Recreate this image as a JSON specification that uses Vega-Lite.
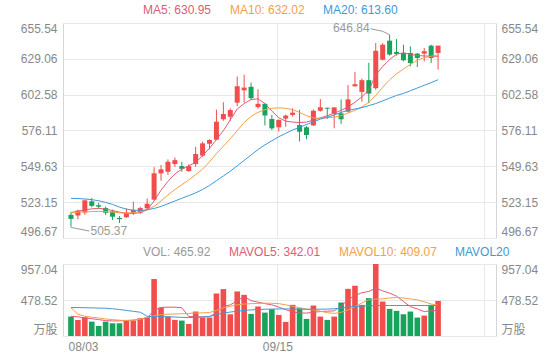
{
  "$schema": "https://vega.github.io/schema/vega-lite/v6.json",
  "width": 433,
  "height": 314,
  "autosize": {"type": "none"},
  "padding": {"left": 63, "top": 23, "right": 64, "bottom": 23},
  "background": "white",
  "config": {
    "view": {"stroke": null},
    "font": "Liberation Sans, Noto Sans CJK SC, sans-serif",
    "axis": {
      "labelFont": "Liberation Sans, Noto Sans CJK SC, sans-serif",
      "labelFontSize": 12,
      "labelColor": "#888888",
      "ticks": false,
      "domainColor": "#d6d6d6",
      "gridColor": "#e8e8e8",
      "title": null,
      "labelFlush": true,
      "labelFlushOffset": 0
    },
    "legend": {
      "labelFont": "Liberation Sans, Noto Sans CJK SC, sans-serif",
      "labelFontSize": 12,
      "symbolSize": 0,
      "symbolOpacity": 0,
      "symbolStrokeWidth": 0,
      "labelOffset": 0,
      "columnPadding": 6,
      "padding": 0,
      "rowPadding": 0
    }
  },
  "data": {
    "values": [
      {"i": 0, "o": 513.8, "h": 516.0, "l": 505.37, "c": 510.8, "v": 258, "ma5": 515.4, "ma10": 515.5, "ma20": 526.0, "mv5": 262, "mv10": 378, "mv20": 378},
      {"i": 1, "o": 513.3, "h": 517.6, "l": 510.5, "c": 516.9, "v": 214, "ma5": 516.5, "ma10": 515.8, "ma20": 525.8, "mv5": 255, "mv10": 290, "mv20": 378},
      {"i": 2, "o": 515.5, "h": 525.0, "l": 513.8, "c": 524.5, "v": 249, "ma5": 517.4, "ma10": 516.0, "ma20": 525.5, "mv5": 240, "mv10": 262, "mv20": 376},
      {"i": 3, "o": 523.8, "h": 526.2, "l": 519.3, "c": 520.4, "v": 191, "ma5": 518.2, "ma10": 516.2, "ma20": 525.0, "mv5": 230, "mv10": 250, "mv20": 374},
      {"i": 4, "o": 520.9, "h": 522.7, "l": 518.3, "c": 519.8, "v": 134, "ma5": 518.6, "ma10": 516.3, "ma20": 524.2, "mv5": 218, "mv10": 240, "mv20": 371},
      {"i": 5, "o": 518.8, "h": 519.9, "l": 513.7, "c": 515.3, "v": 191, "ma5": 518.0, "ma10": 516.2, "ma20": 523.0, "mv5": 205, "mv10": 227, "mv20": 369},
      {"i": 6, "o": 516.3, "h": 517.6, "l": 510.0, "c": 512.4, "v": 169, "ma5": 517.0, "ma10": 515.8, "ma20": 521.5, "mv5": 200, "mv10": 218, "mv20": 362},
      {"i": 7, "o": 511.5, "h": 512.9, "l": 507.7, "c": 510.6, "v": 169, "ma5": 515.8, "ma10": 515.3, "ma20": 519.5, "mv5": 202, "mv10": 210, "mv20": 352},
      {"i": 8, "o": 512.0, "h": 518.6, "l": 511.5, "c": 515.4, "v": 214, "ma5": 514.9, "ma10": 515.0, "ma20": 518.0, "mv5": 205, "mv10": 205, "mv20": 340},
      {"i": 9, "o": 515.0, "h": 523.5, "l": 513.7, "c": 517.4, "v": 205, "ma5": 514.8, "ma10": 515.3, "ma20": 517.2, "mv5": 210, "mv10": 212, "mv20": 328},
      {"i": 10, "o": 515.4, "h": 519.8, "l": 514.4, "c": 518.8, "v": 236, "ma5": 515.4, "ma10": 516.0, "ma20": 517.0, "mv5": 222, "mv10": 222, "mv20": 316},
      {"i": 11, "o": 518.6, "h": 525.9, "l": 517.4, "c": 522.0, "v": 249, "ma5": 517.5, "ma10": 517.5, "ma20": 517.5, "mv5": 240, "mv10": 250, "mv20": 262},
      {"i": 12, "o": 525.0, "h": 549.0, "l": 524.5, "c": 544.5, "v": 757, "ma5": 524.0, "ma10": 520.0, "ma20": 518.5, "mv5": 340, "mv10": 268, "mv20": 258},
      {"i": 13, "o": 544.4, "h": 550.6, "l": 539.0, "c": 547.4, "v": 378, "ma5": 532.0, "ma10": 524.0, "ma20": 520.0, "mv5": 380, "mv10": 285, "mv20": 258},
      {"i": 14, "o": 545.6, "h": 554.7, "l": 543.2, "c": 553.0, "v": 258, "ma5": 538.5, "ma10": 528.5, "ma20": 522.0, "mv5": 383, "mv10": 290, "mv20": 256},
      {"i": 15, "o": 551.3, "h": 556.2, "l": 549.3, "c": 554.2, "v": 214, "ma5": 544.0, "ma10": 532.5, "ma20": 524.0, "mv5": 383, "mv10": 292, "mv20": 252},
      {"i": 16, "o": 549.8, "h": 553.0, "l": 545.6, "c": 547.8, "v": 205, "ma5": 547.5, "ma10": 536.0, "ma20": 526.0, "mv5": 375, "mv10": 296, "mv20": 248},
      {"i": 17, "o": 546.1, "h": 551.1, "l": 545.6, "c": 549.8, "v": 160, "ma5": 550.0, "ma10": 539.5, "ma20": 528.0, "mv5": 260, "mv10": 300, "mv20": 245},
      {"i": 18, "o": 551.3, "h": 564.1, "l": 549.3, "c": 558.7, "v": 325, "ma5": 552.5, "ma10": 543.5, "ma20": 530.0, "mv5": 255, "mv10": 305, "mv20": 248},
      {"i": 19, "o": 557.5, "h": 567.8, "l": 556.7, "c": 566.6, "v": 245, "ma5": 557.5, "ma10": 547.5, "ma20": 532.5, "mv5": 255, "mv10": 308, "mv20": 252},
      {"i": 20, "o": 566.3, "h": 569.6, "l": 562.2, "c": 569.1, "v": 245, "ma5": 563.0, "ma10": 553.0, "ma20": 535.5, "mv5": 258, "mv10": 312, "mv20": 258},
      {"i": 21, "o": 569.3, "h": 591.5, "l": 568.9, "c": 582.6, "v": 565, "ma5": 569.5, "ma10": 559.0, "ma20": 539.0, "mv5": 310, "mv10": 340, "mv20": 285},
      {"i": 22, "o": 584.4, "h": 597.0, "l": 583.3, "c": 588.3, "v": 623, "ma5": 576.0, "ma10": 564.5, "ma20": 542.5, "mv5": 392, "mv10": 375, "mv20": 305},
      {"i": 23, "o": 586.3, "h": 592.5, "l": 583.3, "c": 591.2, "v": 289, "ma5": 584.0, "ma10": 570.0, "ma20": 546.0, "mv5": 414, "mv10": 395, "mv20": 318},
      {"i": 24, "o": 596.7, "h": 616.0, "l": 594.0, "c": 608.8, "v": 592, "ma5": 592.0, "ma10": 576.0, "ma20": 550.0, "mv5": 470, "mv10": 415, "mv20": 330},
      {"i": 25, "o": 605.8, "h": 617.3, "l": 596.7, "c": 607.8, "v": 547, "ma5": 596.0, "ma10": 582.0, "ma20": 554.0, "mv5": 525, "mv10": 425, "mv20": 340},
      {"i": 26, "o": 608.4, "h": 611.5, "l": 598.5, "c": 600.0, "v": 294, "ma5": 599.0, "ma10": 586.5, "ma20": 558.0, "mv5": 470, "mv10": 430, "mv20": 347},
      {"i": 27, "o": 593.4, "h": 606.6, "l": 592.2, "c": 595.8, "v": 392, "ma5": 599.5, "ma10": 589.5, "ma20": 562.0, "mv5": 450, "mv10": 433, "mv20": 352},
      {"i": 28, "o": 595.8, "h": 596.3, "l": 579.8, "c": 587.2, "v": 311, "ma5": 596.0, "ma10": 591.5, "ma20": 565.5, "mv5": 430, "mv10": 436, "mv20": 356},
      {"i": 29, "o": 584.6, "h": 587.6, "l": 576.5, "c": 577.7, "v": 356, "ma5": 590.5, "ma10": 592.5, "ma20": 568.5, "mv5": 414, "mv10": 436, "mv20": 358},
      {"i": 30, "o": 578.5, "h": 584.4, "l": 575.3, "c": 583.9, "v": 280, "ma5": 585.5, "ma10": 592.8, "ma20": 571.5, "mv5": 385, "mv10": 430, "mv20": 360},
      {"i": 31, "o": 584.9, "h": 587.9, "l": 578.9, "c": 587.1, "v": 187, "ma5": 583.0, "ma10": 592.5, "ma20": 574.0, "mv5": 350, "mv10": 414, "mv20": 360},
      {"i": 32, "o": 587.6, "h": 592.5, "l": 586.3, "c": 589.3, "v": 414, "ma5": 582.3, "ma10": 591.5, "ma20": 576.5, "mv5": 320, "mv10": 395, "mv20": 358},
      {"i": 33, "o": 580.1, "h": 591.3, "l": 568.0, "c": 575.2, "v": 369, "ma5": 582.0, "ma10": 589.5, "ma20": 578.5, "mv5": 305, "mv10": 375, "mv20": 356},
      {"i": 34, "o": 578.5, "h": 579.4, "l": 569.6, "c": 572.8, "v": 227, "ma5": 582.3, "ma10": 587.0, "ma20": 580.5, "mv5": 305, "mv10": 360, "mv20": 355},
      {"i": 35, "o": 579.9, "h": 591.7, "l": 579.4, "c": 590.7, "v": 405, "ma5": 583.8, "ma10": 585.5, "ma20": 582.5, "mv5": 315, "mv10": 347, "mv20": 355},
      {"i": 36, "o": 590.7, "h": 599.3, "l": 590.0, "c": 593.2, "v": 258, "ma5": 585.5, "ma10": 585.0, "ma20": 584.5, "mv5": 325, "mv10": 330, "mv20": 356},
      {"i": 37, "o": 592.9, "h": 593.0, "l": 584.6, "c": 592.2, "v": 214, "ma5": 587.0, "ma10": 585.5, "ma20": 586.0, "mv5": 330, "mv10": 310, "mv20": 358},
      {"i": 38, "o": 588.3, "h": 593.2, "l": 577.7, "c": 593.2, "v": 258, "ma5": 589.0, "ma10": 586.0, "ma20": 587.5, "mv5": 334, "mv10": 300, "mv20": 362},
      {"i": 39, "o": 588.8, "h": 599.1, "l": 581.0, "c": 584.4, "v": 445, "ma5": 591.0, "ma10": 587.0, "ma20": 589.5, "mv5": 400, "mv10": 315, "mv20": 370},
      {"i": 40, "o": 590.0, "h": 609.6, "l": 589.3, "c": 599.1, "v": 627, "ma5": 593.5, "ma10": 589.0, "ma20": 591.0, "mv5": 480, "mv10": 345, "mv20": 385},
      {"i": 41, "o": 608.8, "h": 619.4, "l": 608.4, "c": 610.3, "v": 668, "ma5": 597.0, "ma10": 591.0, "ma20": 592.0, "mv5": 540, "mv10": 390, "mv20": 392},
      {"i": 42, "o": 604.6, "h": 614.5, "l": 597.4, "c": 613.3, "v": 414, "ma5": 601.0, "ma10": 593.5, "ma20": 593.0, "mv5": 575, "mv10": 440, "mv20": 398},
      {"i": 43, "o": 613.3, "h": 626.1, "l": 596.2, "c": 603.4, "v": 503, "ma5": 606.0, "ma10": 597.0, "ma20": 594.5, "mv5": 592, "mv10": 480, "mv20": 402},
      {"i": 44, "o": 607.4, "h": 640.7, "l": 606.2, "c": 635.0, "v": 957.04, "ma5": 617.0, "ma10": 602.0, "ma20": 596.0, "mv5": 636, "mv10": 490, "mv20": 405},
      {"i": 45, "o": 628.4, "h": 640.7, "l": 627.9, "c": 639.5, "v": 458, "ma5": 623.5, "ma10": 608.0, "ma20": 598.0, "mv5": 600, "mv10": 494, "mv20": 405},
      {"i": 46, "o": 642.5, "h": 646.84, "l": 631.4, "c": 632.2, "v": 360, "ma5": 628.5, "ma10": 613.5, "ma20": 600.0, "mv5": 570, "mv10": 505, "mv20": 405},
      {"i": 47, "o": 634.2, "h": 643.7, "l": 631.4, "c": 632.7, "v": 334, "ma5": 632.5, "ma10": 618.0, "ma20": 602.0, "mv5": 530, "mv10": 512, "mv20": 405},
      {"i": 48, "o": 633.4, "h": 639.5, "l": 627.2, "c": 628.0, "v": 289, "ma5": 633.5, "ma10": 621.5, "ma20": 603.5, "mv5": 460, "mv10": 505, "mv20": 405},
      {"i": 49, "o": 633.4, "h": 638.3, "l": 623.5, "c": 626.0, "v": 325, "ma5": 632.5, "ma10": 625.0, "ma20": 605.5, "mv5": 390, "mv10": 494, "mv20": 405},
      {"i": 50, "o": 632.9, "h": 633.4, "l": 623.0, "c": 629.7, "v": 245, "ma5": 631.5, "ma10": 628.0, "ma20": 607.5, "mv5": 360, "mv10": 480, "mv20": 405},
      {"i": 51, "o": 632.9, "h": 637.1, "l": 627.2, "c": 634.7, "v": 271, "ma5": 631.2, "ma10": 630.0, "ma20": 609.5, "mv5": 325, "mv10": 455, "mv20": 405},
      {"i": 52, "o": 638.8, "h": 639.5, "l": 626.0, "c": 629.7, "v": 414, "ma5": 631.0, "ma10": 631.0, "ma20": 611.5, "mv5": 335, "mv10": 425, "mv20": 405},
      {"i": 53, "o": 633.4, "h": 638.8, "l": 621.1, "c": 638.8, "v": 465.92, "ma5": 630.95, "ma10": 632.02, "ma20": 613.6, "mv5": 342.01, "mv10": 409.07, "mv20": 405}
    ]
  },
  "resolve": {
    "scale": {"y": "independent"},
    "axis": {"x": "independent", "y": "independent"}
  },
  "layer": [
    {
      "mark": {"type": "rule", "strokeWidth": 1},
      "encoding": {
        "x": {"field": "i", "type": "quantitative", "scale": {"domain": [-0.43, 60.64], "nice": false, "zero": false},
              "axis": {"orient": "top", "values": [29.8, 59.65], "grid": true, "labels": false, "domain": false, "ticks": false}},
        "y": {"field": "l", "type": "quantitative", "scale": {"domain": [496.67, 655.54], "range": [215, 0], "nice": false, "zero": false},
              "axis": {"orient": "left", "values": [496.67, 523.15, 549.63, 576.11, 602.58, 629.06, 655.54], "format": ".2f", "grid": true, "labelPadding": 6}},
        "y2": {"field": "h"},
        "color": {"condition": {"test": "datum.c >= datum.o", "value": "#f14d4d"}, "value": "#17a35b"}
      }
    },
    {
      "mark": {"type": "bar", "size": 5},
      "encoding": {
        "x": {"field": "i", "type": "quantitative", "axis": null},
        "y": {"field": "o", "type": "quantitative", "scale": {"domain": [496.67, 655.54], "range": [215, 0], "nice": false, "zero": false},
              "axis": {"orient": "right", "values": [496.67, 523.15, 549.63, 576.11, 602.58, 629.06, 655.54], "format": ".2f", "grid": false, "labelPadding": 5}},
        "y2": {"field": "c"},
        "color": {"condition": {"test": "datum.c >= datum.o", "value": "#f14d4d"}, "value": "#17a35b"}
      }
    },
    {
      "transform": [{"fold": ["ma5", "ma10", "ma20"], "as": ["key", "val"]}],
      "mark": {"type": "line", "strokeWidth": 1},
      "encoding": {
        "x": {"field": "i", "type": "quantitative", "axis": null},
        "y": {"field": "val", "type": "quantitative", "scale": {"domain": [496.67, 655.54], "range": [215, 0], "nice": false, "zero": false}, "axis": null},
        "color": {
          "field": "key", "type": "nominal",
          "scale": {"domain": ["ma5", "ma10", "ma20"], "range": ["#e05b75", "#f4a049", "#3d9ad8"]},
          "legend": {
            "orient": "none", "legendX": 68, "legendY": -19, "direction": "horizontal", "title": null,
            "labelExpr": "datum.value === 'ma5' ? 'MA5: 630.95' : datum.value === 'ma10' ? 'MA10: 632.02' : 'MA20: 613.60'",
            "labelColor": {"expr": "datum.value === 'ma5' ? '#e05b75' : datum.value === 'ma10' ? '#f4a049' : '#3d9ad8'"}
          }
        }
      }
    },
    {
      "mark": {"type": "bar", "size": 5.6},
      "encoding": {
        "x": {"field": "i", "type": "quantitative",
              "axis": {"orient": "top", "values": [29.8, 59.65], "grid": true, "labels": false, "domain": false, "ticks": false}},
        "y": {"field": "v", "type": "quantitative", "scale": {"domain": [0, 957.04], "range": [313, 241], "nice": false, "zero": true},
              "axis": {"orient": "left", "values": [0, 478.52, 957.04], "labelExpr": "datum.value === 0 ? '万股' : format(datum.value, '.2f')", "grid": true, "labelPadding": 6}},
        "color": {"condition": {"test": "datum.c >= datum.o", "value": "#f14d4d"}, "value": "#17a35b"}
      }
    },
    {
      "transform": [{"fold": ["mv5", "mv10", "mv20"], "as": ["key", "val"]}],
      "mark": {"type": "line", "strokeWidth": 1},
      "encoding": {
        "x": {"field": "i", "type": "quantitative",
              "axis": {"orient": "bottom", "values": [-0.43, 29.8], "grid": false, "domain": false, "ticks": false, "labelPadding": 4,
                       "labelFlush": false,
                       "labelAlign": {"expr": "datum.value < 0 ? 'left' : 'center'"},
                       "labelExpr": "datum.value < 0 ? '08/03' : '09/15'"}},
        "y": {"field": "val", "type": "quantitative", "scale": {"domain": [0, 957.04], "range": [313, 241], "nice": false, "zero": true},
              "axis": {"orient": "right", "values": [0, 478.52, 957.04], "labelExpr": "datum.value === 0 ? '万股' : format(datum.value, '.2f')", "grid": false, "labelPadding": 5}},
        "stroke": {
          "field": "key", "type": "nominal",
          "scale": {"domain": ["vol", "mv5", "mv10", "mv20"], "range": ["#999999", "#e05b75", "#f4a049", "#3d9ad8"]},
          "legend": {
            "orient": "none", "legendX": 68, "legendY": 222.5, "direction": "horizontal", "title": null,
            "labelExpr": "datum.value === 'vol' ? 'VOL: 465.92' : datum.value === 'mv5' ? 'MAVOL5: 342.01' : datum.value === 'mv10' ? 'MAVOL10: 409.07' : 'MAVOL20'",
            "labelColor": {"expr": "datum.value === 'vol' ? '#999999' : datum.value === 'mv5' ? '#e05b75' : datum.value === 'mv10' ? '#f4a049' : '#3d9ad8'"}
          }
        }
      }
    },
    {
      "data": {"values": [{"i": 46, "p": 646.84, "t": "646.84"}]},
      "mark": {"type": "rule", "color": "#999999", "strokeWidth": 1, "x2Offset": -7, "y2Offset": -3.5},
      "encoding": {
        "x": {"field": "i", "type": "quantitative", "axis": null},
        "x2": {"field": "i"},
        "y": {"field": "p", "type": "quantitative", "scale": {"domain": [496.67, 655.54], "range": [215, 0], "nice": false, "zero": false}, "axis": null},
        "y2": {"field": "p"}
      }
    },
    {
      "data": {"values": [{"i": 46, "p": 646.84, "t": "646.84"}]},
      "mark": {"type": "rule", "color": "#999999", "strokeWidth": 1, "xOffset": -7, "yOffset": -3.5, "x2Offset": -19, "y2Offset": -6},
      "encoding": {
        "x": {"field": "i", "type": "quantitative", "axis": null},
        "x2": {"field": "i"},
        "y": {"field": "p", "type": "quantitative", "scale": {"domain": [496.67, 655.54], "range": [215, 0], "nice": false, "zero": false}, "axis": null},
        "y2": {"field": "p"}
      }
    },
    {
      "data": {"values": [{"i": 46, "p": 646.84, "t": "646.84"}]},
      "mark": {"type": "text", "color": "#999999", "fontSize": 12, "align": "right", "baseline": "middle", "dx": -20, "dy": -6.5},
      "encoding": {
        "x": {"field": "i", "type": "quantitative", "axis": null},
        "y": {"field": "p", "type": "quantitative", "scale": {"domain": [496.67, 655.54], "range": [215, 0], "nice": false, "zero": false}, "axis": null},
        "text": {"field": "t"}
      }
    },
    {
      "data": {"values": [{"i": 0, "p": 505.37, "t": "505.37"}]},
      "mark": {"type": "rule", "color": "#999999", "strokeWidth": 1, "yOffset": 0, "x2Offset": 0, "y2Offset": 1.2},
      "encoding": {
        "x": {"field": "i", "type": "quantitative", "axis": null},
        "x2": {"field": "i"},
        "y": {"field": "p", "type": "quantitative", "scale": {"domain": [496.67, 655.54], "range": [215, 0], "nice": false, "zero": false}, "axis": null},
        "y2": {"field": "p"}
      }
    },
    {
      "data": {"values": [{"i": 0, "p": 505.37, "t": "505.37"}]},
      "mark": {"type": "rule", "color": "#999999", "strokeWidth": 1, "yOffset": 1.2, "x2Offset": 18.5, "y2Offset": 4.8},
      "encoding": {
        "x": {"field": "i", "type": "quantitative", "axis": null},
        "x2": {"field": "i"},
        "y": {"field": "p", "type": "quantitative", "scale": {"domain": [496.67, 655.54], "range": [215, 0], "nice": false, "zero": false}, "axis": null},
        "y2": {"field": "p"}
      }
    },
    {
      "data": {"values": [{"i": 0, "p": 505.37, "t": "505.37"}]},
      "mark": {"type": "text", "color": "#999999", "fontSize": 12, "align": "left", "baseline": "middle", "dx": 19.5, "dy": 5},
      "encoding": {
        "x": {"field": "i", "type": "quantitative", "axis": null},
        "y": {"field": "p", "type": "quantitative", "scale": {"domain": [496.67, 655.54], "range": [215, 0], "nice": false, "zero": false}, "axis": null},
        "text": {"field": "t"}
      }
    }
  ]
}
